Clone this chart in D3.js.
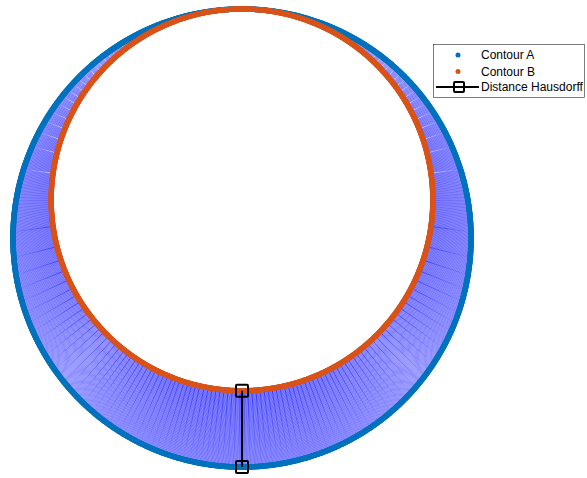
<!DOCTYPE html>
<html>
<head>
<meta charset="utf-8">
<script src="https://cdn.jsdelivr.net/npm/d3@7"></script>
<style>
  html, body { margin: 0; padding: 0; background: #fff; }
  svg { display: block; }
  text { font-family: "Liberation Sans", Arial, Helvetica, sans-serif; }
</style>
</head>
<body>
<svg id="chart" width="587" height="478"></svg>
<script>
// Two closed contours, each a circle given by centre and radius (data units)
const contourACentre = [0, -0.2];
const contourARadius = 1.2;
const contourBCentre = [0, 0];
const contourBRadius = 1.0;
const sampleCount = 1800;

const legendLabels = ["Contour A", "Contour B", "Distance Hausdorff"];
const colourA = "#0072BD";
const colourB = "#D95319";

function sampleContour(centre, radius) {
  return d3.range(sampleCount).map(i => {
    const t = (2 * Math.PI * i) / sampleCount;
    return [centre[0] + radius * Math.cos(t), centre[1] + radius * Math.sin(t)];
  });
}

const pointsA = sampleContour(contourACentre, contourARadius);
const pointsB = sampleContour(contourBCentre, contourBRadius);

// nearest point of B for every point of A
const dist = (p, q) => Math.hypot(p[0] - q[0], p[1] - q[1]);
const nearestPairs = pointsA.map(a => {
  let best = pointsB[0], bd = Infinity;
  for (const b of pointsB) { const d = dist(a, b); if (d < bd) { bd = d; best = b; } }
  return { a, b: best, d: bd };
});
// directed Hausdorff distance A -> B
const hausdorff = nearestPairs.reduce((m, p) => (p.d > m.d ? p : m), nearestPairs[0]);

const svg = d3.select("#chart");
const x = d3.scaleLinear().domain([-1.2, 1.2]).range([13, 471]);
const y = d3.scaleLinear().domain([-1.4, 1.0]).range([467, 9]);

// connecting segments
svg.append("g")
  .selectAll("line")
  .data(nearestPairs)
  .join("line")
  .attr("x1", d => x(d.a[0])).attr("y1", d => y(d.a[1]))
  .attr("x2", d => x(d.b[0])).attr("y2", d => y(d.b[1]))
  .attr("stroke", "#0000ff")
  .attr("stroke-width", 0.5)
  .attr("stroke-opacity", 0.9);

// contour points
svg.append("g")
  .selectAll("circle")
  .data(pointsA)
  .join("circle")
  .attr("cx", d => x(d[0])).attr("cy", d => y(d[1]))
  .attr("r", 2.8)
  .attr("fill", colourA);

svg.append("g")
  .selectAll("circle")
  .data(pointsB)
  .join("circle")
  .attr("cx", d => x(d[0])).attr("cy", d => y(d[1]))
  .attr("r", 2.7)
  .attr("fill", colourB);

// Hausdorff segment with square markers
const hPts = [hausdorff.b, hausdorff.a];
svg.append("line")
  .attr("x1", x(hPts[0][0])).attr("y1", y(hPts[0][1]))
  .attr("x2", x(hPts[1][0])).attr("y2", y(hPts[1][1]))
  .attr("stroke", "#000").attr("stroke-width", 2);
svg.append("g")
  .selectAll("rect")
  .data(hPts)
  .join("rect")
  .attr("x", d => x(d[0]) - 6).attr("y", d => y(d[1]) - 6)
  .attr("width", 12).attr("height", 12).attr("rx", 1)
  .attr("fill", "none").attr("stroke", "#000").attr("stroke-width", 2);

// legend
const lg = svg.append("g").attr("transform", "translate(433,44)");
lg.append("rect")
  .attr("x", 0.5).attr("y", 0.5).attr("width", 151).attr("height", 53)
  .attr("fill", "#fff").attr("stroke", "#262626").attr("stroke-width", 0.6);
const rowY = [11, 27.5, 43];
lg.append("circle").attr("cx", 25).attr("cy", rowY[0]).attr("r", 2.5).attr("fill", colourA);
lg.append("circle").attr("cx", 25).attr("cy", rowY[1]).attr("r", 2.5).attr("fill", colourB);
lg.append("line").attr("x1", 3).attr("x2", 46).attr("y1", rowY[2]).attr("y2", rowY[2])
  .attr("stroke", "#000").attr("stroke-width", 2);
lg.append("rect").attr("x", 21).attr("y", rowY[2] - 5).attr("width", 10).attr("height", 10).attr("rx", 1)
  .attr("fill", "none").attr("stroke", "#000").attr("stroke-width", 2);
lg.selectAll("text.lab")
  .data(legendLabels)
  .join("text")
  .attr("class", "lab")
  .attr("x", 48).attr("y", (d, i) => rowY[i] + 4.3)
  .attr("font-size", 12).attr("fill", "#000")
  .text(d => d);
</script>
</body>
</html>
